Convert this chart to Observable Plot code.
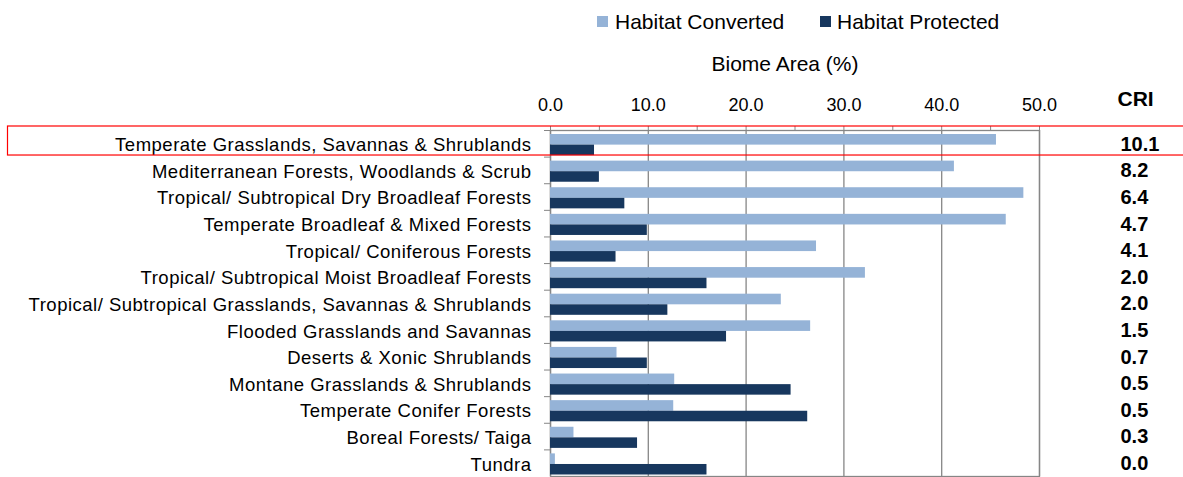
<!DOCTYPE html>
<html>
<head>
<meta charset="utf-8">
<script src="https://cdn.jsdelivr.net/npm/d3@7"></script>
<script src="https://cdn.jsdelivr.net/npm/@observablehq/plot@0.6"></script>
<style>
  html, body { margin: 0; padding: 0; background: #fff; }
  #wrap { position: relative; width: 1183px; height: 477px; overflow: hidden; font-family: 'Liberation Sans', Arial, sans-serif; color: #000; }
  #wrap svg { position: absolute; left: 0; top: 0; overflow: visible; }
  .lg { position: absolute; font-size: 21px; line-height: 21px; white-space: nowrap; }
  .sw { position: absolute; width: 11px; height: 11px; }
  g[aria-label="y-axis tick label"] text { letter-spacing: 0.5px; }
</style>
</head>
<body>
<div id="wrap">
  <div class="sw" style="left:597px; top:16px; background:#95B3D7"></div>
  <div class="lg" style="left:615px; top:11px">Habitat Converted</div>
  <div class="sw" style="left:820px; top:16px; background:#17375E"></div>
  <div class="lg" style="left:837px; top:11px">Habitat Protected</div>
  <div class="lg" style="left:785px; top:53px; transform:translateX(-50%)">Biome Area (%)</div>
</div>
<script>
const biomes = [
  "Temperate Grasslands, Savannas & Shrublands",
  "Mediterranean Forests, Woodlands & Scrub",
  "Tropical/ Subtropical Dry Broadleaf Forests",
  "Temperate Broadleaf & Mixed Forests",
  "Tropical/ Coniferous Forests",
  "Tropical/ Subtropical Moist Broadleaf Forests",
  "Tropical/ Subtropical Grasslands, Savannas & Shrublands",
  "Flooded Grasslands and Savannas",
  "Deserts & Xonic Shrublands",
  "Montane Grasslands & Shrublands",
  "Temperate Conifer Forests",
  "Boreal Forests/ Taiga",
  "Tundra"
];
const converted = [45.6, 41.3, 48.4, 46.6, 27.2, 32.2, 23.6, 26.6, 6.8, 12.7, 12.6, 2.4, 0.5];
const protectedPct = [4.5, 5.0, 7.6, 9.9, 6.7, 16.0, 12.0, 18.0, 9.9, 24.6, 26.3, 8.9, 16.0];
const cri = [10.1, 8.2, 6.4, 4.7, 4.1, 2.0, 2.0, 1.5, 0.7, 0.5, 0.5, 0.3, 0.0];
const xTicks = [0, 10, 20, 30, 40, 50];
const xMinorTicks = [0, 5, 10, 15, 20, 25, 30, 35, 40, 45, 50];
const criHeader = ["CRI"];

const rows = biomes.map((b, i) => ({biome: b, converted: converted[i], prot: protectedPct[i], cri: cri[i]}));

const W = 1183, H = 477, mL = 550, mR = 144, mT = 130, mB = 1;
const step = (H - mT - mB) / biomes.length;
const gray = "#868686";

const chart = Plot.plot({
  width: W, height: H,
  marginLeft: mL, marginRight: mR, marginTop: mT, marginBottom: mB,
  style: {fontFamily: "'Liberation Sans', Arial, sans-serif", fontSize: "18px", color: "#000", background: "transparent", overflow: "visible"},
  x: {domain: [0, 50]},
  y: {domain: biomes, padding: 0, round: false},
  marks: [
    Plot.ruleX(xTicks, {stroke: gray, strokeWidth: 1.3, strokeOpacity: 1}),
    Plot.frame({stroke: gray, strokeWidth: 1.3}),
    Plot.axisX({ticks: xMinorTicks, anchor: "top", tickSize: 5, tickFormat: () => "", stroke: gray, strokeOpacity: 1, label: null}),
    Plot.axisX({ticks: xTicks, anchor: "top", tickSize: 0, tickPadding: 20, tickFormat: d => d.toFixed(1), fontSize: 18, label: null}),
    Plot.axisY({anchor: "left", tickSize: 6, tickFormat: () => "", dy: -step / 2, stroke: gray, strokeOpacity: 1, label: null}),
    Plot.axisY({anchor: "left", tickSize: 0, tickPadding: 19, fontSize: 18.5, dy: 1.5, label: null}),
    Plot.barX(rows, {y: "biome", x: "converted", fill: "#95B3D7", insetTop: 4, insetBottom: 12}),
    Plot.barX(rows, {y: "biome", x: "prot", fill: "#17375E", insetTop: 14.6, insetBottom: 1.5}),
    Plot.text(rows, {y: "biome", text: d => d.cri.toFixed(1), frameAnchor: "right", dx: 81, dy: 0.5, textAnchor: "start", fontWeight: "bold", fontSize: 20, fill: "#000"}),
    Plot.text(criHeader, {text: d => d, frameAnchor: "top-right", dx: 78, dy: -25, lineAnchor: "bottom", textAnchor: "start", fontWeight: "bold", fontSize: 21, fill: "#000"}),
    Plot.barX([biomes[0]], {y: d => d, x1: 0, x2: 50, fill: "none", stroke: "#ff0000", strokeWidth: 1.2, insetLeft: -542.5, insetRight: -150, insetTop: -4, insetBottom: 1.6})
  ]
});
document.getElementById("wrap").prepend(chart);
</script>
</body>
</html>
